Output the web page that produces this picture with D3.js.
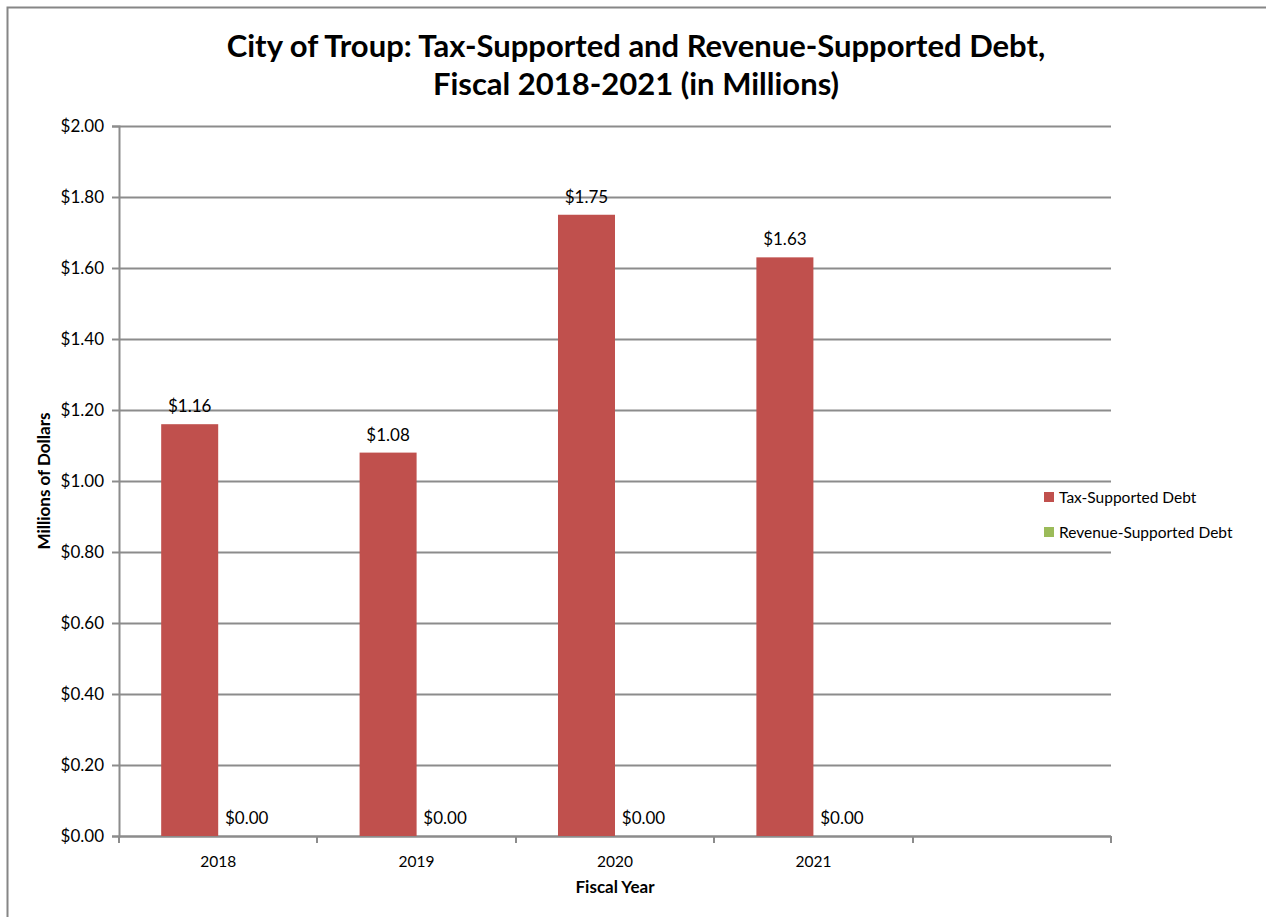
<!DOCTYPE html>
<html>
<head>
<meta charset="utf-8">
<script src="https://cdn.jsdelivr.net/npm/d3@7"></script>
<style>
  body { margin: 0; background: #fff; }
  text { font-family: Lato, "Open Sans", sans-serif; fill: #000; }
</style>
</head>
<body>
<div id="chart"></div>
<script>
// Chart data
const years = ['2018', '2019', '2020', '2021', '']
const seriesNames = ['Tax-Supported Debt', 'Revenue-Supported Debt']
const taxDebt = [1.16, 1.08, 1.75, 1.63, null]
const revenueDebt = [0, 0, 0, 0, null]
const yTicks = [0, 0.2, 0.4, 0.6, 0.8, 1.0, 1.2, 1.4, 1.6, 1.8, 2.0]
const colors = ['#C0504D', '#9BBB59']

const width = 1266,
  height = 917,
  plotLeft = 119,
  plotRight = 1111,
  plotTop = 126,
  plotBottom = 836

let svg = d3.select('#chart')
  .append('svg')
  .attr('width', width)
  .attr('height', height)

// outer chart border (only top and left show)
svg.append('rect')
  .attr('x', 7.5).attr('y', 7.5)
  .attr('width', width + 20).attr('height', height + 20)
  .attr('fill', 'none')
  .attr('stroke', '#868686')
  .attr('stroke-width', 2)

const xScale = d3.scaleBand()
  .domain(years)
  .range([plotLeft, plotRight])
  .paddingInner(0)
  .paddingOuter(0)

const xSeries = d3.scaleBand()
  .domain(seriesNames)
  .range([0, xScale.bandwidth()])
  .paddingInner(0)
  .paddingOuter(0.74)

const yScale = d3.scaleLinear()
  .domain([0, 2])
  .range([plotBottom, plotTop])

// gridlines
svg.append('g')
  .selectAll('line')
  .data(yTicks)
  .enter()
  .append('line')
  .attr('x1', plotLeft)
  .attr('x2', plotRight)
  .attr('y1', d => Math.round(yScale(d)) + 0.5)
  .attr('y2', d => Math.round(yScale(d)) + 0.5)
  .attr('stroke', '#8c8c8c')
  .attr('stroke-width', 2)

// y axis
let axisY = d3.axisLeft(yScale)
  .tickValues(yTicks)
  .tickSize(7)
  .tickPadding(8)
  .tickFormat(d => '$' + d.toFixed(2))
let gy = svg.append('g')
  .attr('transform', `translate(${plotLeft}, 0)`)
  .call(axisY)
gy.select('.domain').attr('stroke', '#8c8c8c').attr('stroke-width', 2)
gy.selectAll('.tick line').attr('stroke', '#8c8c8c').attr('stroke-width', 2)
gy.selectAll('.tick text').style('font-size', '17px').attr('fill', '#000')

// x axis: ticks at band edges
let gx = svg.append('g')
  .attr('transform', `translate(0, ${plotBottom})`)
gx.append('line')
  .attr('x1', plotLeft).attr('x2', plotRight)
  .attr('y1', 0.5).attr('y2', 0.5)
  .attr('stroke', '#8c8c8c').attr('stroke-width', 2)
const edges = years.map(d => xScale(d)).concat([plotRight])
gx.selectAll('line.tk')
  .data(edges)
  .enter()
  .append('line')
  .attr('class', 'tk')
  .attr('x1', d => Math.round(d)).attr('x2', d => Math.round(d))
  .attr('y1', 0).attr('y2', 7)
  .attr('stroke', '#8c8c8c').attr('stroke-width', 2)
gx.selectAll('text')
  .data(years)
  .enter()
  .append('text')
  .attr('x', d => xScale(d) + xScale.bandwidth() / 2)
  .attr('y', 31)
  .attr('text-anchor', 'middle')
  .style('font-size', '15.5px')
  .text(d => d)

// bars
const rows = years.map((y, i) => ({ year: y, values: [taxDebt[i], revenueDebt[i]] }))
  .filter(r => r.values[0] !== null)

let groups = svg.selectAll('g.year')
  .data(rows)
  .enter()
  .append('g')
  .attr('class', 'year')
  .attr('transform', d => `translate(${xScale(d.year)}, 0)`)

groups.selectAll('rect')
  .data(d => d.values.map((v, j) => ({ name: seriesNames[j], v: v, j: j })))
  .enter()
  .append('rect')
  .attr('x', d => xSeries(d.name))
  .attr('y', d => yScale(d.v))
  .attr('width', xSeries.bandwidth())
  .attr('height', d => yScale(0) - yScale(d.v))
  .attr('fill', d => colors[d.j])

groups.selectAll('text')
  .data(d => d.values.map((v, j) => ({ name: seriesNames[j], v: v })))
  .enter()
  .append('text')
  .attr('x', d => xSeries(d.name) + xSeries.bandwidth() / 2)
  .attr('y', d => yScale(d.v) - 12)
  .attr('text-anchor', 'middle')
  .style('font-size', '17px')
  .text(d => '$' + d.v.toFixed(2))

// title
svg.append('text')
  .attr('x', 636).attr('y', 57)
  .attr('text-anchor', 'middle')
  .style('font-size', '31px').style('font-weight', 'bold')
  .text('City of Troup: Tax-Supported and Revenue-Supported Debt,')
svg.append('text')
  .attr('x', 636).attr('y', 95)
  .attr('text-anchor', 'middle')
  .style('font-size', '31px').style('font-weight', 'bold')
  .text('Fiscal 2018-2021 (in Millions)')

// axis titles
svg.append('text')
  .attr('transform', 'translate(50, 481) rotate(-90)')
  .attr('text-anchor', 'middle')
  .style('font-size', '17px').style('font-weight', 'bold')
  .text('Millions of Dollars')
svg.append('text')
  .attr('x', 615).attr('y', 893)
  .attr('text-anchor', 'middle')
  .style('font-size', '17px').style('font-weight', 'bold')
  .text('Fiscal Year')

// legend
let legend = svg.selectAll('g.legend')
  .data(seriesNames)
  .enter()
  .append('g')
  .attr('class', 'legend')
  .attr('transform', (d, i) => `translate(1044, ${492 + i * 35})`)
legend.append('rect')
  .attr('width', 10).attr('height', 10)
  .attr('fill', (d, i) => colors[i])
legend.append('text')
  .attr('x', 15).attr('y', 10.5)
  .style('font-size', '15.5px')
  .text(d => d)
</script>
</body>
</html>
